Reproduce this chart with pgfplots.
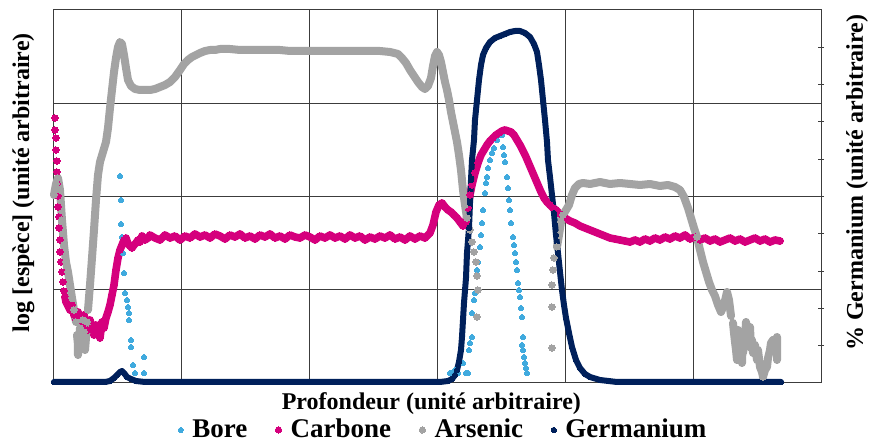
\documentclass[border=0pt]{standalone}
\usepackage{pgfplots}
\pgfplotsset{compat=1.18}
\usepackage{pgfplotstable}
\usepackage{fontspec}
\setmainfont{Liberation Serif}
\definecolor{bore}{RGB}{64,170,222}
\definecolor{carbone}{RGB}{213,0,125}
\definecolor{arsenic}{RGB}{163,163,163}
\definecolor{germanium}{RGB}{0,32,91}
\definecolor{gridc}{RGB}{60,60,60}

\pgfplotstableread{
x y
120 176
121 200
121 224
122 237
123 253
124 273
125 293
127 300
128 307
129 313
129 320
131 340
131 347
133 365
135 373
144 357
144 373
450 373
452 373
455 370
458 373
463 363
466 373
468 373
469 350
470 343
472 337
472 313
474 300
475 293
477 270
478 262
480 247
481 235
482 223
483 210
485 193
486 183
487 177
488 168
490 160
492 153
494 148
497 140
500 135
502 135
503 147
504 155
505 162
507 177
508 188
509 200
510 210
511 223
513 237
514 245
515 253
516 262
517 270
518 283
519 290
520 297
521 308
522 317
523 337
522 345
523 350
524 357
525 363
526 368
527 373
}\bore

\pgfplotstableread{
x y
55 118
nan nan
55 130
nan nan
56 138
nan nan
56 150
nan nan
57 161
nan nan
57 172
nan nan
57 184
nan nan
58 196
nan nan
58 207
nan nan
59 217
nan nan
59 228
nan nan
60 240
nan nan
60 252
nan nan
61 262
nan nan
62 272
nan nan
63 282
nan nan
64 291
nan nan
65 297
66 302
68 306
70 310
72 305
74 315
76 320
78 312
80 318
82 326
84 315
86 322
88 330
90 320
92 328
94 335
96 325
98 330
100 338
102 322
104 328
106 318
108 312
110 305
112 295
114 285
116 270
118 258
120 250
122 245
124 240
126 238
128 244
130 246
132 248
134 245
136 243
138 240
140 242
142 236
145 240
148 238
150 235
155 238
160 240
165 235
170 238
175 236
180 240
185 236
190 238
195 234
200 237
205 235
210 238
215 234
220 236
225 239
230 235
235 237
240 234
245 238
250 236
255 239
260 235
265 237
270 234
275 238
280 236
285 239
290 235
295 237
300 238
305 235
310 237
315 240
320 236
325 238
330 235
335 238
340 236
345 239
350 235
355 238
360 236
365 240
370 237
375 239
380 236
385 238
390 235
395 239
400 237
405 240
410 236
415 239
420 236
425 238
430 233
433 225
436 212
439 205
442 203
445 207
448 210
451 212
454 215
457 218
460 222
463 226
466 222
468 208
470 195
472 185
475 173
478 163
481 155
484 150
487 145
490 141
493 138
496 135
499 133
502 131
505 130
508 131
511 132
514 135
517 140
520 145
523 151
526 157
529 164
532 171
535 178
538 185
541 192
544 198
547 202
550 205
553 208
556 210
560 214
565 218
570 221
575 223
580 226
585 228
590 230
595 232
600 234
605 236
610 238
615 239
620 240
625 241
630 242
635 240
640 242
645 239
650 241
655 238
660 240
665 237
670 239
675 236
680 238
685 235
690 239
695 237
700 240
705 238
710 241
715 239
720 242
725 240
730 238
735 241
740 239
745 242
750 240
755 238
760 241
765 239
770 242
775 240
780 241
}\carbone

\pgfplotstableread{
x y
54 195
56 184
58 178
60 190
62 220
64 245
66 262
68 272
70 285
72 298
74 310
76 322
nan nan
77 335
78 345
78 355
80 328
81 340
83 320
84 332
85 350
86 338
87 322
nan nan
88 310
90 285
92 258
94 230
96 200
98 175
100 162
103 152
106 142
108 128
110 108
112 90
114 72
116 58
118 47
120 42
122 44
124 55
126 68
128 80
131 86
135 89
140 90
145 90
150 90
155 89
160 87
165 85
170 82
175 77
180 70
184 64
188 60
192 57
196 55
200 53
205 51
210 50
215 50
220 49
230 49
240 50
250 50
260 50
270 50
280 50
290 51
300 51
310 51
320 51
330 51
340 51
350 51
360 51
370 51
380 51
390 52
398 54
402 58
406 63
410 70
414 76
418 82
422 87
425 89
428 86
431 78
433 66
435 56
437 52
439 55
441 62
443 72
445 82
447 90
449 100
451 112
453 122
455 132
457 142
459 155
461 170
463 190
465 205
467 218
nan nan
470 230
nan nan
472 242
nan nan
474 252
nan nan
476 262
nan nan
477 276
nan nan
478 290
nan nan
477 317
nan nan
552 348
nan nan
552 307
nan nan
552 285
nan nan
553 270
nan nan
554 258
nan nan
557 247
559 235
561 222
563 215
566 210
569 205
572 195
575 188
579 184
583 183
590 184
600 182
610 184
620 183
630 184
640 185
650 184
660 186
668 185
675 187
680 190
684 197
688 208
691 218
694 228
697 237
700 250
703 262
706 272
709 282
712 290
715 296
718 305
721 312
724 305
727 292
729 300
731 316
nan nan
733 323
734 333
735 342
736 350
737 360
738 330
740 337
741 346
742 363
743 333
743 353
745 340
746 322
747 327
748 345
749 335
750 327
751 348
752 340
753 353
755 345
757 360
758 350
760 367
762 372
763 377
765 370
767 367
768 358
770 350
771 343
773 340
774 350
775 345
777 337
777 353
777 360
}\arsenic

\pgfplotstableread{
x y
54 382
70 382
90 382
105 382
110 381
114 378
117 375
120 372
122 371
124 373
127 377
131 379
136 381
145 382
160 382
200 382
250 382
300 382
350 382
400 382
440 382
448 381
452 379
455 375
457 370
459 362
461 350
462 337
463 320
464 303
466 278
467 253
469 228
470 203
471 180
472 160
474 140
475 120
477 100
479 80
481 65
483 55
486 48
490 42
495 38
500 36
505 34
510 32
515 31
520 31
525 33
530 37
534 44
537 52
539 65
541 80
543 100
545 120
547 142
548 160
550 177
552 195
554 213
556 235
558 253
560 272
562 290
564 305
566 318
569 333
572 347
576 360
580 368
585 374
590 377
600 380
617 382
650 382
700 382
750 382
781 382
}\germanium

\begin{document}
\begin{tikzpicture}
\useasboundingbox (-27pt,-29.5pt) rectangle (407.5pt,191.5pt);
\begin{axis}[
  at={(0,0)}, anchor=south west,
  scale only axis, width=383.5pt, height=186.5pt,
  xmin=54, xmax=821, ymin=10, ymax=383, y dir=reverse,
  clip=false,
  xtick={182,310,438,565,693}, ytick={104,197,290},
  xticklabels={}, yticklabels={},
  major tick length=0pt,
  grid=major,
  major grid style={gridc, line width=0.5pt},
  axis line style={gridc, line width=0.5pt},
  unbounded coords=jump,
  xlabel={Profondeur (unité arbitraire)},
  ylabel={log [espèce] (unité arbitraire)},
  xlabel style={font=\fontsize{12}{14}\selectfont\bfseries, at={(axis description cs:0.492,-0.056)}, anchor=center},
  ylabel style={font=\fontsize{12}{14}\selectfont\bfseries, at={(axis description cs:-0.040,0.537)}, anchor=center},
  legend columns=4,
  legend style={draw=none, fill=none, at={(axis description cs:0.509,-0.126)}, anchor=center,
    font=\fontsize{13.5}{15}\selectfont\bfseries,
    /tikz/every odd column/.append style={column sep=2.5pt},
    /tikz/every even column/.append style={column sep=12pt}},
  legend image code/.code={\draw[mark repeat=1,mark phase=1,#1] plot coordinates {(0.15cm,0cm)};},
]
\addplot[only marks, mark=*, mark size=1.25pt, color=bore, mark options={line width=0pt}] table {\bore};
\addlegendentry{Bore}
\addplot[forget plot, no marks, color=carbone, line width=3.8pt, line join=round, line cap=round] table {\carbone};
\addplot[only marks, mark=*, mark size=1.6pt, color=carbone, mark options={line width=0pt}] table {\carbone};
\addlegendentry{Carbone}
\addplot[forget plot, no marks, color=arsenic, line width=4pt, line join=round, line cap=round] table {\arsenic};
\addplot[only marks, mark=*, mark size=1.6pt, color=arsenic, mark options={line width=0pt}] table {\arsenic};
\addlegendentry{Arsenic}
\addplot[forget plot, no marks, color=germanium, line width=3pt, line join=round, line cap=round] table {\germanium};
\addplot[only marks, mark=*, mark size=1.35pt, color=germanium, mark options={line width=0pt}] table {\germanium};
\addlegendentry{Germanium}
\end{axis}
\begin{axis}[
  at={(0,0)}, anchor=south west,
  scale only axis, width=383.5pt, height=186.5pt,
  xmin=0, xmax=1, ymin=0, ymax=10,
  axis x line=none, axis y line*=right,
  axis line style={gridc, line width=0.5pt},
  ytick={1,...,9}, yticklabels={},
  major tick length=3pt, tick align=center,
  tick style={gridc, line width=0.5pt},
  ylabel={\% Germanium (unité arbitraire)},
  ylabel style={font=\fontsize{12}{14}\selectfont\bfseries, at={(axis description cs:1.047,0.537)}, anchor=center, rotate=0},
]
\end{axis}
\end{tikzpicture}
\end{document}
